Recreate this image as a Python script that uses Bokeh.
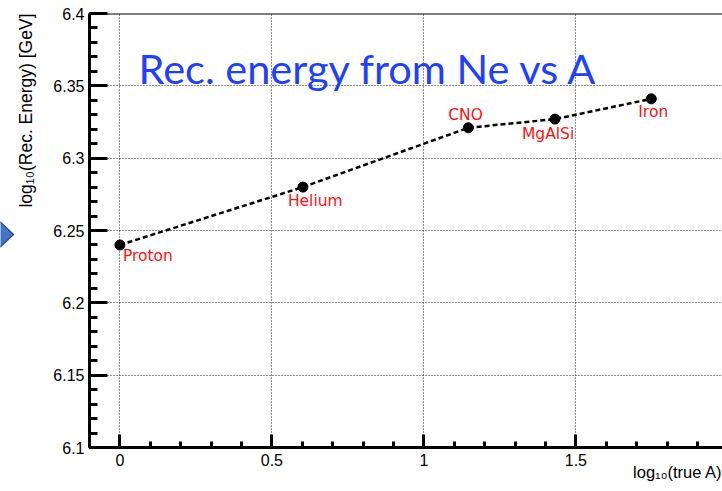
from bokeh.plotting import figure
from bokeh.layouts import row
from bokeh.models import ColumnDataSource, Range1d, SingleIntervalTicker, Span, Label, Title
from bokeh.core.properties import value
from bokeh.embed import file_html
from bokeh.resources import INLINE

# ---- data ----
species = ["Proton", "Helium", "CNO", "MgAlSi", "Iron"]
log_true_a = [0.0, 0.602, 1.146, 1.431, 1.748]
log_rec_energy = [6.240, 6.280, 6.321, 6.327, 6.341]

title_text = "Rec. energy from Ne vs A"
x_title = "log\u2081\u2080(true A)"
y_title = "log\u2081\u2080(Rec. Energy) [GeV]"

# label placement relative to each point (screen pixels) -- style only
lab_dx = [3, -15, -20, -33, -13]
lab_dy = [11, 14, -13, 15, 13]

# decorative partial arrow shape at the far left (screen pixels)
arrow_xs = [-3, 13, -3]
arrow_ys = [233, 250, 267]

W, H = 722, 491
ARROW_W = 14
LEFT, TOP, BOTTOM = 89 - ARROW_W, 13, 44
MAIN_W = W - ARROW_W
frame_w = MAIN_W - LEFT
x0 = -0.1
px_per_unit = 304.0

p = figure(width=MAIN_W, height=H, output_backend="svg", toolbar_location=None,
           x_range=Range1d(x0, x0 + frame_w / px_per_unit),
           y_range=Range1d(6.1, 6.4),
           min_border_left=LEFT, min_border_right=0,
           min_border_top=TOP, min_border_bottom=BOTTOM,
           background_fill_color="white", border_fill_color="white")
p.outline_line_color = None

# axes
for ax in (p.xaxis[0], p.yaxis[0]):
    ax.axis_line_width = 3
    ax.axis_line_color = "black"
    ax.major_tick_out = 0
    ax.minor_tick_out = 0
    ax.major_tick_line_width = 3
    ax.minor_tick_line_width = 3
    ax.major_label_text_font = "Liberation Sans"
    ax.major_label_text_font_size = "16px"
    ax.major_label_text_color = "black"

p.xaxis[0].ticker = SingleIntervalTicker(interval=0.5, num_minor_ticks=5)
p.yaxis[0].ticker = SingleIntervalTicker(interval=0.05, num_minor_ticks=5)
p.xaxis[0].major_tick_in = 13
p.xaxis[0].minor_tick_in = 6
p.yaxis[0].major_tick_in = 18
p.yaxis[0].minor_tick_in = 8
p.xaxis[0].major_label_standoff = 6
p.yaxis[0].major_label_standoff = 5

# blank spacer label on the y axis to push the side title outward
p.yaxis[0].axis_label = " "
p.yaxis[0].axis_label_text_font_size = "1px"
p.yaxis[0].axis_label_standoff = 8

# axis titles as side titles, aligned to the far ends (ROOT style)
p.add_layout(Title(text=y_title, align="right", vertical_align="top",
                   text_font="Liberation Sans",
                   text_font_style="normal", text_font_size="17.5px",
                   text_color="black", standoff=1), "left")
p.add_layout(Title(text=x_title, align="right", text_font="Liberation Sans",
                   text_font_style="normal", text_font_size="16.5px",
                   text_color="black", standoff=-16), "below")

# grid
for g in (p.xgrid[0], p.ygrid[0]):
    g.grid_line_color = "#222222"
    g.grid_line_dash = "1 2"
    g.grid_line_width = 1
p.xgrid[0].ticker = p.xaxis[0].ticker
p.ygrid[0].ticker = p.yaxis[0].ticker

# top frame line
p.add_layout(Span(location=6.4, dimension="width", line_color="black", line_width=2))

src = ColumnDataSource(dict(x=log_true_a, y=log_rec_energy, name=species,
                            dx=lab_dx, dy=lab_dy))
p.line("x", "y", source=src, line_color="black", line_width=2.5, line_dash="5 3")
p.scatter("x", "y", source=src, size=10, color="black")
p.text("x", "y", text="name", source=src, x_offset="dx", y_offset="dy",
       text_color="#ff1010", text_font=value("DejaVu Sans"), text_font_size="15.5px",
       text_align="left", text_baseline="alphabetic")

# title inside the frame (screen units relative to frame)
p.add_layout(Label(x=138 - 89, y=(H - BOTTOM) - 67, x_units="screen", y_units="screen",
                   text=title_text, text_color="#2040ff", text_font="Lato",
                   text_font_size="41.5px", text_baseline="alphabetic"))

# small side figure holding the partial arrow
a = figure(width=ARROW_W, height=H, output_backend="svg", toolbar_location=None,
           x_axis_location=None, y_axis_location=None,
           x_range=Range1d(0, ARROW_W), y_range=Range1d(H, 0),
           min_border=0, min_border_left=0, min_border_right=0,
           min_border_top=0, min_border_bottom=0,
           background_fill_color="white", border_fill_color="white")
a.grid.visible = False
a.outline_line_color = None
a.patch(arrow_xs, arrow_ys, fill_color="#4472C4", line_color="#2F528F", line_width=1.5)

layout = row(a, p, spacing=0)
open("out.html", "w").write(file_html(layout, INLINE))
